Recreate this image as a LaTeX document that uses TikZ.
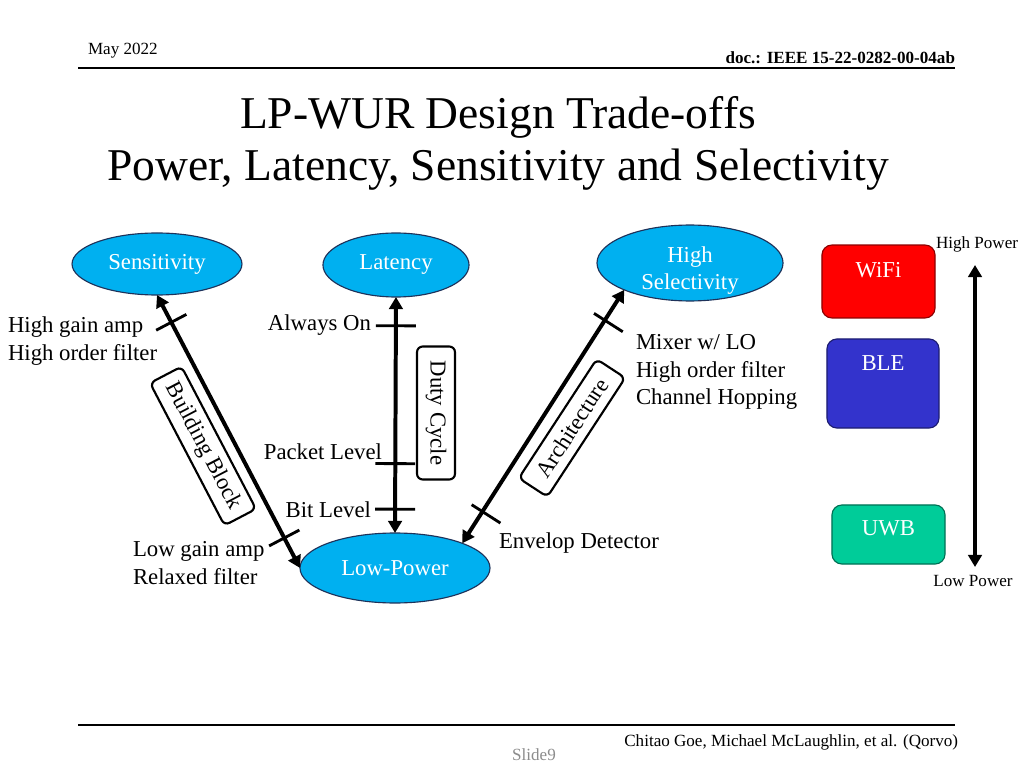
\documentclass[tikz,border=0pt]{standalone}
\usepackage{fontspec}
\setmainfont{Liberation Serif}
\usetikzlibrary{shapes.geometric,arrows.meta,calc}
\definecolor{cyanfill}{RGB}{0,176,240}
\definecolor{ellline}{RGB}{30,50,90}
\definecolor{wifired}{RGB}{255,0,0}
\definecolor{bleblue}{RGB}{51,51,204}
\definecolor{uwbgreen}{RGB}{0,204,153}
\begin{document}
\begin{tikzpicture}[x=0.703125pt,y=-0.703125pt,
  every node/.style={inner sep=0pt, outer sep=0pt},
  oval/.style={ellipse, fill=cyanfill, draw=ellline, line width=0.8pt, text=white, font=\fontsize{16}{19}\selectfont, align=center},
  bigarrow/.style={line width=2.8pt, {Triangle[length=8.5pt,width=9.5pt]}-{Triangle[length=8.5pt,width=9.5pt]}},
  tickmark/.style={line width=2pt},
  lab/.style={font=\fontsize{16}{19.6}\selectfont, align=left},
  lbox/.style={draw, line width=1.5pt, rounded corners=4pt, font=\fontsize{16}{19}\selectfont},
  tech/.style={rounded corners=7pt, line width=0.8pt},
  techtext/.style={text=white, font=\fontsize{16}{19}\selectfont, anchor=center},
  small/.style={font=\fontsize{12}{14}\selectfont}
]
\useasboundingbox[fill=white] (0,0) rectangle (1024,768);

% header and footer
\node[anchor=west, small] (date) at (88,51) {May 2022};
\node[anchor=east, font=\bfseries\fontsize{12}{14}\selectfont] (doc) at (955,58) {doc.: IEEE 15-22-0282-00-04ab};
\draw[line width=1.4pt] (78,68) -- (955,68);
\draw[line width=1.1pt] (78,725) -- (955,725);
\node[anchor=east, small] (authors) at (958,742) {Chitao Goe, Michael McLaughlin, et al. (Qorvo)};
\node[small, text=black!45] (slide) at (534,755) {Slide9};

% title
\node[font=\fontsize{32}{36.6}\selectfont, align=center] (title) at (498,143) {LP-WUR Design Trade-offs\\Power, Latency, Sensitivity and Selectivity};

% ellipses
\node[oval, minimum width=119.5pt, minimum height=43.6pt] (sens) at (157,264) {Sensitivity};
\node[oval, minimum width=102.7pt, minimum height=45pt] (lat) at (396,265) {Latency};
\node[oval, minimum width=130.8pt, minimum height=53.4pt,
  label={[text=white, font=\fontsize{16}{19}\selectfont, align=center, anchor=center, yshift=-5pt]center:High\\Selectivity}] (hsel) at (690,263) {};
\node[oval, minimum width=133.6pt, minimum height=49.2pt] (lowp) at (395,568) {Low-Power};

% arrows
\draw[bigarrow] (sens.south) -- (lowp.west);
\draw[bigarrow] (lat.south) -- (lowp.north);
\draw[bigarrow] (hsel.south west) -- (lowp.north east);

% tick positions
\path (sens.south) -- (lowp.west) coordinate[pos=0.1] (bt1) coordinate[pos=0.89] (bt2);
\path (lat.south) -- (lowp.north) coordinate[pos=0.122] (lt1) coordinate[pos=0.706] (lt2) coordinate[pos=0.899] (lt3);
\path (hsel.south west) -- (lowp.north east) coordinate[pos=0.12] (at1) coordinate[pos=0.875] (at2);

\draw[tickmark] ($(bt1)!12pt!90:(lowp.west)$) -- ($(bt1)!12pt!-90:(lowp.west)$);
\draw[tickmark] ($(bt2)!12pt!90:(lowp.west)$) -- ($(bt2)!12pt!-90:(lowp.west)$);
\draw[tickmark] ($(lt1)!14pt!90:(lowp.north)$) -- ($(lt1)!14pt!-90:(lowp.north)$);
\draw[tickmark] ($(lt2)!14pt!90:(lowp.north)$) -- ($(lt2)!14pt!-90:(lowp.north)$);
\draw[tickmark] ($(lt3)!14pt!90:(lowp.north)$) -- ($(lt3)!14pt!-90:(lowp.north)$);
\draw[tickmark] ($(at1)!15pt!90:(lowp.north east)$) -- ($(at1)!9pt!-90:(lowp.north east)$);
\draw[tickmark] ($(at2)!15pt!90:(lowp.north east)$) -- ($(at2)!9pt!-90:(lowp.north east)$);

% rotated boxes
\node[lbox, rotate=-62.4, minimum width=113pt, minimum height=25pt] (bblock) at (203,446) {Building Block};
\node[lbox, rotate=-90, minimum width=93.5pt, minimum height=26.7pt] (duty) at (436,413) {Duty Cycle};
\node[lbox, rotate=56.8, minimum width=100pt, minimum height=24pt] (arch) at (572,428) {Architecture};

% labels
\node[lab, anchor=west] (hga) at (8,341) {High gain amp\\High order filter};
\node[lab, anchor=west] (lga) at (133,563) {Low gain amp\\Relaxed filter};
\node[lab, anchor=east] (aon) at (371,325) {Always On};
\node[lab, anchor=east] (pkt) at (382,452) {Packet Level};
\node[lab, anchor=east] (bit) at (371,510) {Bit Level};
\node[lab, anchor=west] (mix) at (636,372) {Mixer w/ LO\\High order filter\\Channel Hopping};
\node[lab, anchor=west] (env) at (499,543) {Envelop Detector};

% technology boxes
\node[tech, fill=wifired, draw=wifired!55!black, minimum width=79.5pt, minimum height=51.3pt,
  label={[techtext, yshift=-17.6pt]north:WiFi}] (wifi) at (878.5,281.5) {};
\node[tech, fill=bleblue, draw=bleblue!55!black, minimum width=78.8pt, minimum height=62.6pt,
  label={[techtext, yshift=-16.9pt]north:BLE}] (ble) at (883,383.5) {};
\node[tech, fill=uwbgreen, draw=uwbgreen!55!black, minimum width=79.5pt, minimum height=41.5pt,
  label={[techtext, yshift=-16.2pt]north:UWB}] (uwb) at (888.5,534.5) {};

% power axis
\node[small] (hp) at (977,244) {High Power};
\node[small] (lp) at (973,581) {Low Power};
\coordinate (ptop) at (975,265);
\coordinate (pbot) at (975,567);
\draw[bigarrow] (ptop) -- (pbot);
\end{tikzpicture}
\end{document}
